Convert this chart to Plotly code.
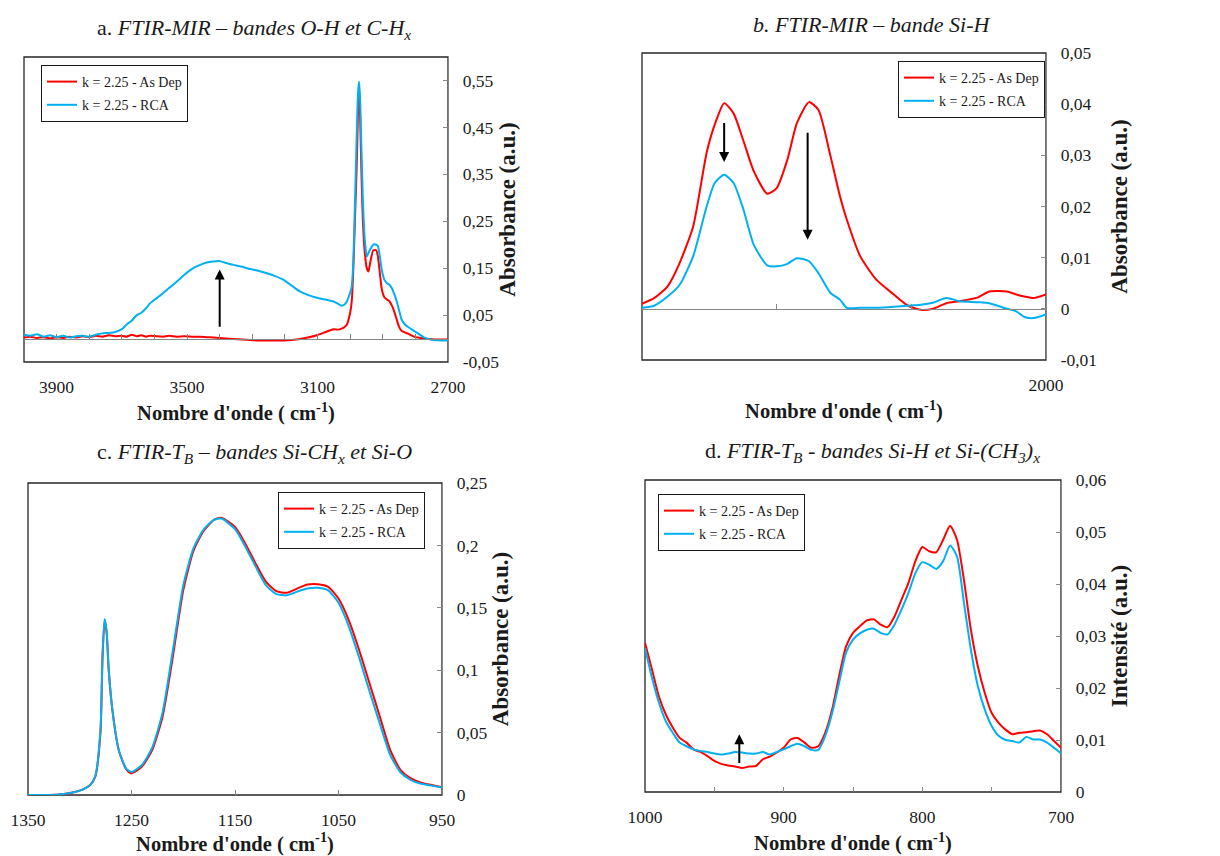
import plotly.graph_objects as go

# ---------------- DATA ----------------
series_names = ["k = 2.25 - As Dep", "k = 2.25 - RCA"]

# Panel a : FTIR-MIR O-H / C-Hx
a_x = [4000, 3980, 3960, 3940, 3920, 3900, 3880, 3860, 3840, 3820, 3800, 3780, 3760, 3740, 3720, 3700,
       3685, 3670, 3654, 3640, 3625, 3614, 3595, 3573, 3555, 3532, 3510, 3481, 3460, 3440, 3420, 3400,
       3380, 3358, 3330, 3307, 3280, 3255, 3230, 3204, 3180, 3153, 3130, 3102, 3075, 3051, 3035, 3026,
       3018, 3010, 3000, 2995, 2990, 2985, 2980, 2976, 2973, 2970, 2966, 2961, 2955, 2949, 2944, 2939,
       2929, 2920, 2915, 2909, 2903, 2895, 2887, 2880, 2872, 2865, 2857, 2850, 2842, 2832, 2821, 2810,
       2801, 2790, 2775, 2760, 2744, 2720, 2700]
a_asdep = [0.002, 0.004, 0.001, 0.003, 0.000, 0.003, 0.001, 0.004, 0.002, 0.005, 0.003, 0.006, 0.004, 0.007, 0.005, 0.006,
           0.004, 0.008, 0.005, 0.007, 0.004, 0.006, 0.005, 0.004, 0.006, 0.004, 0.005, 0.004, 0.004, 0.003, 0.002, 0.001,
           0.000, -0.001, -0.002, -0.003, -0.004, -0.004, -0.004, -0.004, -0.003, -0.001, 0.002, 0.007, 0.014, 0.020, 0.019, 0.021,
           0.024, 0.030, 0.055, 0.080, 0.153, 0.260, 0.366, 0.480, 0.539, 0.490, 0.370, 0.250, 0.182, 0.150, 0.143, 0.160,
           0.188, 0.188, 0.175, 0.140, 0.105, 0.088, 0.083, 0.080, 0.070, 0.058, 0.040, 0.025, 0.016, 0.013, 0.010, 0.006,
           0.003, 0.002, 0.000, -0.001, -0.002, -0.002, -0.002]
a_rca = [0.008, 0.006, 0.009, 0.004, 0.007, 0.003, 0.006, 0.002, 0.005, 0.006, 0.004, 0.008, 0.011, 0.012, 0.014, 0.020,
         0.030, 0.038, 0.050, 0.055, 0.065, 0.075, 0.085, 0.097, 0.108, 0.121, 0.135, 0.150, 0.157, 0.162, 0.164, 0.165,
         0.161, 0.157, 0.153, 0.148, 0.144, 0.139, 0.133, 0.125, 0.113, 0.100, 0.093, 0.087, 0.083, 0.079, 0.073, 0.070,
         0.072, 0.079, 0.098, 0.111, 0.170, 0.295, 0.430, 0.520, 0.548, 0.520, 0.420, 0.295, 0.210, 0.175, 0.182, 0.189,
         0.200, 0.200, 0.197, 0.175, 0.146, 0.125, 0.118, 0.115, 0.107, 0.095, 0.079, 0.060, 0.040, 0.030, 0.024, 0.019,
         0.015, 0.010, 0.003, -0.001, -0.003, -0.004, -0.004]

# Panel b : FTIR-MIR Si-H
b_x = [2300, 2291, 2281, 2272, 2262, 2252, 2246, 2239, 2232, 2225, 2217, 2207, 2200, 2192, 2185, 2176, 2169, 2160,
       2153, 2148, 2138, 2126, 2113, 2103, 2093, 2084, 2074, 2064, 2051, 2042, 2029, 2022, 2016, 2009, 2000]
b_asdep = [0.0010, 0.0021, 0.0044, 0.0090, 0.0161, 0.0305, 0.0360, 0.0402, 0.0382, 0.0331, 0.0269, 0.0225, 0.0236,
           0.0292, 0.0363, 0.0404, 0.0389, 0.0298, 0.0220, 0.0175, 0.0103, 0.0057, 0.0028, 0.0007, -0.0002, 0.0000,
           0.0011, 0.0015, 0.0022, 0.0034, 0.0034, 0.0028, 0.0024, 0.0021, 0.0028]
b_rca = [0.0002, 0.0006, 0.0024, 0.0047, 0.0103, 0.0200, 0.0246, 0.0262, 0.0246, 0.0197, 0.0125, 0.0085, 0.0083,
         0.0088, 0.0099, 0.0093, 0.0070, 0.0031, 0.0018, 0.0002, 0.0002, 0.0002, 0.0004, 0.0006, 0.0008, 0.0012,
         0.0021, 0.0015, 0.0013, 0.0011, 0.0000, -0.0005, -0.0016, -0.0018, -0.0011]

# Panel c : FTIR-TB Si-CHx / Si-O
c_x = [1350, 1320, 1300, 1290, 1285, 1280, 1278, 1276, 1274, 1272, 1268, 1262, 1255, 1250, 1240, 1230, 1220, 1210,
       1200, 1190, 1180, 1170, 1163, 1150, 1140, 1130, 1120, 1110, 1100, 1090, 1080, 1070, 1060, 1050, 1040, 1030,
       1020, 1010, 1000, 990, 980, 970, 960, 950]
c_asdep = [0.0, 0.0005, 0.0035, 0.008, 0.0147, 0.050, 0.110, 0.140, 0.130, 0.100, 0.065, 0.035, 0.0205, 0.0173,
           0.0227, 0.036, 0.0627, 0.111, 0.164, 0.196, 0.212, 0.2207, 0.2222, 0.2148, 0.2014, 0.1854, 0.1708, 0.1633,
           0.162, 0.1654, 0.1686, 0.1689, 0.1668, 0.1574, 0.140, 0.116, 0.0894, 0.0627, 0.036, 0.020, 0.0133, 0.0099,
           0.008, 0.0061]
c_rca = [0.0, 0.0005, 0.0035, 0.008, 0.015, 0.052, 0.112, 0.141, 0.131, 0.100, 0.065, 0.035, 0.021, 0.0185,
         0.024, 0.038, 0.066, 0.116, 0.168, 0.198, 0.213, 0.2207, 0.2215, 0.213, 0.199, 0.183, 0.168, 0.161,
         0.160, 0.163, 0.1655, 0.166, 0.164, 0.154, 0.135, 0.110, 0.083, 0.057, 0.032, 0.018, 0.012, 0.009,
         0.0075, 0.006]

# Panel d : FTIR-TB Si-H / Si-(CH3)x
d_x = [1000, 995, 990, 985, 980, 975, 970, 965, 960, 955, 950, 945, 940, 935, 930, 925, 920, 915, 910, 905,
       900, 895, 890, 885, 880, 875, 870, 865, 860, 855, 850, 845, 840, 835, 830, 825, 820, 815, 810, 805,
       800, 795, 790, 785, 780, 775, 770, 765, 760, 755, 750, 745, 740, 735, 730, 725, 720, 715, 710, 705, 700]
d_asdep = [0.0287, 0.0236, 0.0184, 0.0149, 0.0124, 0.0104, 0.0095, 0.0082, 0.0077, 0.0069, 0.0060, 0.0054, 0.0051,
           0.0049, 0.0046, 0.0049, 0.0050, 0.0063, 0.0068, 0.0076, 0.0085, 0.0101, 0.0104, 0.0095, 0.0085, 0.0088,
           0.0114, 0.0159, 0.0223, 0.0280, 0.0306, 0.0319, 0.0330, 0.0332, 0.0322, 0.0317, 0.0338, 0.0370, 0.0402,
           0.0444, 0.0471, 0.0463, 0.0461, 0.0485, 0.0512, 0.0485, 0.0408, 0.0312, 0.0242, 0.0191, 0.0152, 0.0133,
           0.0120, 0.0111, 0.0114, 0.0115, 0.0117, 0.0118, 0.0111, 0.0098, 0.0085]
d_rca = [0.0277, 0.0220, 0.0172, 0.0136, 0.0114, 0.0095, 0.0088, 0.0082, 0.0079, 0.0077, 0.0074, 0.0072, 0.0074,
         0.0077, 0.0076, 0.0074, 0.0074, 0.0077, 0.0072, 0.0077, 0.0082, 0.0088, 0.0093, 0.0088, 0.0081, 0.0081,
         0.0108, 0.0152, 0.0210, 0.0268, 0.0293, 0.0305, 0.0312, 0.0314, 0.0306, 0.0303, 0.0322, 0.0351, 0.0383,
         0.0421, 0.0442, 0.0437, 0.0429, 0.0444, 0.0474, 0.0453, 0.0364, 0.0274, 0.0204, 0.0159, 0.0127, 0.0108,
         0.0100, 0.0098, 0.0095, 0.0106, 0.0101, 0.0101, 0.0095, 0.0085, 0.0074]

# Axis ticks / labels
a_yticks = [-0.05, 0.05, 0.15, 0.25, 0.35, 0.45, 0.55]
a_ylabels = ["-0,05", "0,05", "0,15", "0,25", "0,35", "0,45", "0,55"]
a_xticks = [3900, 3500, 3100, 2700]
b_yticks = [-0.01, 0, 0.01, 0.02, 0.03, 0.04, 0.05]
b_ylabels = ["-0,01", "0", "0,01", "0,02", "0,03", "0,04", "0,05"]
b_xticks = [2000]
c_yticks = [0, 0.05, 0.1, 0.15, 0.2, 0.25]
c_ylabels = ["0", "0,05", "0,1", "0,15", "0,2", "0,25"]
c_xticks = [1350, 1250, 1150, 1050, 950]
d_yticks = [0, 0.01, 0.02, 0.03, 0.04, 0.05, 0.06]
d_ylabels = ["0", "0,01", "0,02", "0,03", "0,04", "0,05", "0,06"]
d_xticks = [1000, 900, 800, 700]

titles = [
    "a. <i>FTIR-MIR – bandes O-H et C-H<sub>x</sub></i>",
    "<i>b. FTIR-MIR – bande Si-H</i>",
    "c. <i>FTIR-T<sub>B</sub> – bandes Si-CH<sub>x</sub> et Si-O</i>",
    "d. <i>FTIR-T<sub>B</sub> - bandes Si-H et Si-(CH<sub>3</sub>)<sub>x</sub></i>",
]
xtitle = "<b>Nombre d'onde ( cm<sup>-1</sup>)</b>"
ytitles = ["<b>Absorbance (a.u.)</b>", "<b>Absorbance (a.u.)</b>",
           "<b>Absorbance (a.u.)</b>", "<b>Intensité (a.u.)</b>"]

# ---------------- LAYOUT GEOMETRY (pixels) ----------------
OFF = 8                      # page body margin of the html page
W, H = 1220 - OFF, 856 - OFF
RED, BLUE = "#FF0000", "#00B0F0"
FONT = "Liberation Serif"

# plot boxes in window px: (left, right, top, bottom)
boxes = [(24, 448, 57, 362), (642, 1046, 53, 360), (28, 442, 483, 795), (645, 1061, 480, 792)]
xranges = [[4000, 2700], [2300, 2000], [1350, 950], [1000, 700]]
yranges = [[-0.05, 0.6], [-0.01, 0.05], [0, 0.25], [0, 0.06]]


def px(x):
    return (x - OFF) / W


def py(y):
    return 1 - (y - OFF) / H


def dom(b):
    l, r, t, bt = b
    return [px(l), px(r)], [py(bt), py(t)]


fig = go.Figure()

data = [(a_x, a_asdep, a_rca), (b_x, b_asdep, b_rca), (c_x, c_asdep, c_rca), (d_x, d_asdep, d_rca)]
legends = ["legend", "legend2", "legend3", "legend4"]
for i, (xs, y1, y2) in enumerate(data):
    sx = "x" if i == 0 else f"x{i+1}"
    sy = "y" if i == 0 else f"y{i+1}"
    for j, (ys, col) in enumerate([(y1, RED), (y2, BLUE)]):
        fig.add_trace(go.Scatter(
            x=xs, y=ys, mode="lines", name=series_names[j],
            line=dict(color=col, width=2, shape="spline", smoothing=0.6),
            xaxis=sx, yaxis=sy, legend=legends[i], legendgroup=f"g{i}{j}",
            hoverinfo="skip"))

# invisible carriers for zero-line axes in panels a and b
fig.add_trace(go.Scatter(x=a_x, y=a_asdep, mode="lines", opacity=0, showlegend=False,
                         xaxis="x5", yaxis="y", hoverinfo="skip"))
fig.add_trace(go.Scatter(x=b_x, y=b_asdep, mode="lines", opacity=0, showlegend=False,
                         xaxis="x6", yaxis="y2", hoverinfo="skip"))

tickfont = dict(family=FONT, size=17.5, color="#1a1a1a")
xtickvals = [a_xticks, b_xticks, c_xticks, d_xticks]
ytickvals = [a_yticks, b_yticks, c_yticks, d_yticks]
yticktexts = [a_ylabels, b_ylabels, c_ylabels, d_ylabels]
xticks_on = ["", "", "inside", "inside"]
ystand = [0, 14, 4, 4]

layout = dict(
    width=W, height=H, margin=dict(l=0, r=0, t=0, b=0, autoexpand=False),
    paper_bgcolor="white", plot_bgcolor="white",
    font=dict(family=FONT, color="#1a1a1a"),
    showlegend=True,
)

for i in range(4):
    xd, yd = dom(boxes[i])
    xk = "xaxis" if i == 0 else f"xaxis{i+1}"
    yk = "yaxis" if i == 0 else f"yaxis{i+1}"
    anc_y = "y" if i == 0 else f"y{i+1}"
    anc_x = "x" if i == 0 else f"x{i+1}"
    layout[xk] = dict(domain=xd, anchor=anc_y, range=xranges[i], autorange=False, automargin=False,
                      showgrid=False, zeroline=False, showline=False,
                      tickmode="array", tickvals=xtickvals[i], ticktext=[str(v) for v in xtickvals[i]],
                      ticks=xticks_on[i], ticklen=5, tickcolor="#868686",
                      tickfont=tickfont, ticklabelstandoff=12,
                      title=dict(text=xtitle, font=dict(family=FONT, size=20.5, color="#1a1a1a"), standoff=10))
    layout[yk] = dict(domain=yd, anchor=anc_x, side="right", range=yranges[i], autorange=False,
                      automargin=False,
                      showgrid=False, zeroline=False, showline=True, linecolor="#868686", linewidth=1.3,
                      tickmode="array", tickvals=ytickvals[i], ticktext=yticktexts[i],
                      ticks="inside", ticklen=5, tickcolor="#868686",
                      tickfont=tickfont, ticklabelstandoff=10,
                      title=dict(text=ytitles[i], font=dict(family=FONT, size=23, color="#1a1a1a"),
                                 standoff=ystand[i]))

# panel d: unlabelled intermediate ticks every 50 cm-1
layout["xaxis4"]["minor"] = dict(tick0=0, dtick=50, ticks="inside", ticklen=5, tickcolor="#868686")

# zero-line axes (panels a and b)
for k, over, i in [("xaxis5", "x", 0), ("xaxis6", "x2", 1)]:
    xd, yd = dom(boxes[i])
    y0, y1 = yranges[i]
    pos = yd[0] + (0 - y0) / (y1 - y0) * (yd[1] - yd[0])
    layout[k] = dict(overlaying=over, anchor="free", position=pos, side="bottom", automargin=False,
                     range=xranges[i], autorange=False, showgrid=False, zeroline=False,
                     showline=True, linecolor="#868686", linewidth=1,
                     tick0=0, dtick=100, ticks="inside", ticklen=5, tickcolor="#868686",
                     showticklabels=False)

fig.update_layout(**layout)

# plot-area borders
for i in range(4):
    sx = "x" if i == 0 else f"x{i+1}"
    sy = "y" if i == 0 else f"y{i+1}"
    fig.add_shape(type="rect", xref=f"{sx} domain", yref=f"{sy} domain", x0=0, x1=1, y0=0, y1=1,
                  line=dict(color="#262626", width=1.3), layer="below")

# titles (window px centres)
title_pos = [(254, 29), (872, 25), (254, 453), (872, 452)]
for t, (tx, ty) in zip(titles, title_pos):
    fig.add_annotation(text=t, x=px(tx), y=py(ty), xref="paper", yref="paper",
                       xanchor="center", yanchor="middle", showarrow=False,
                       font=dict(family=FONT, size=22, color="#1a1a1a"))

# arrows
arrows = [("x", "y", 3400, 0.147, 0.022), ("x2", "y2", 2239, 0.0287, 0.0366),
          ("x2", "y2", 2177, 0.0135, 0.0347), ("x4", "y4", 932, 0.0111, 0.0053)]
for sx, sy, xv, yh, yt in arrows:
    fig.add_annotation(x=xv, y=yh, ax=xv, ay=yt, xref=sx, yref=sy, axref=sx, ayref=sy,
                       showarrow=True, arrowhead=2, arrowsize=1, arrowwidth=2, arrowcolor="black", text="")

# legends
leg_common = dict(bgcolor="white", bordercolor="#1a1a1a", borderwidth=1,
                  font=dict(family=FONT, size=14, color="#1a1a1a"),
                  tracegroupgap=2, itemwidth=30)
fig.update_layout(
    legend=dict(x=px(41), y=py(65), xanchor="left", yanchor="top", **leg_common),
    legend2=dict(x=px(1045), y=py(61), xanchor="right", yanchor="top", **leg_common),
    legend3=dict(x=px(425), y=py(492), xanchor="right", yanchor="top", **leg_common),
    legend4=dict(x=px(658), y=py(494), xanchor="left", yanchor="top", **leg_common),
)

fig.write_html("out.html")
